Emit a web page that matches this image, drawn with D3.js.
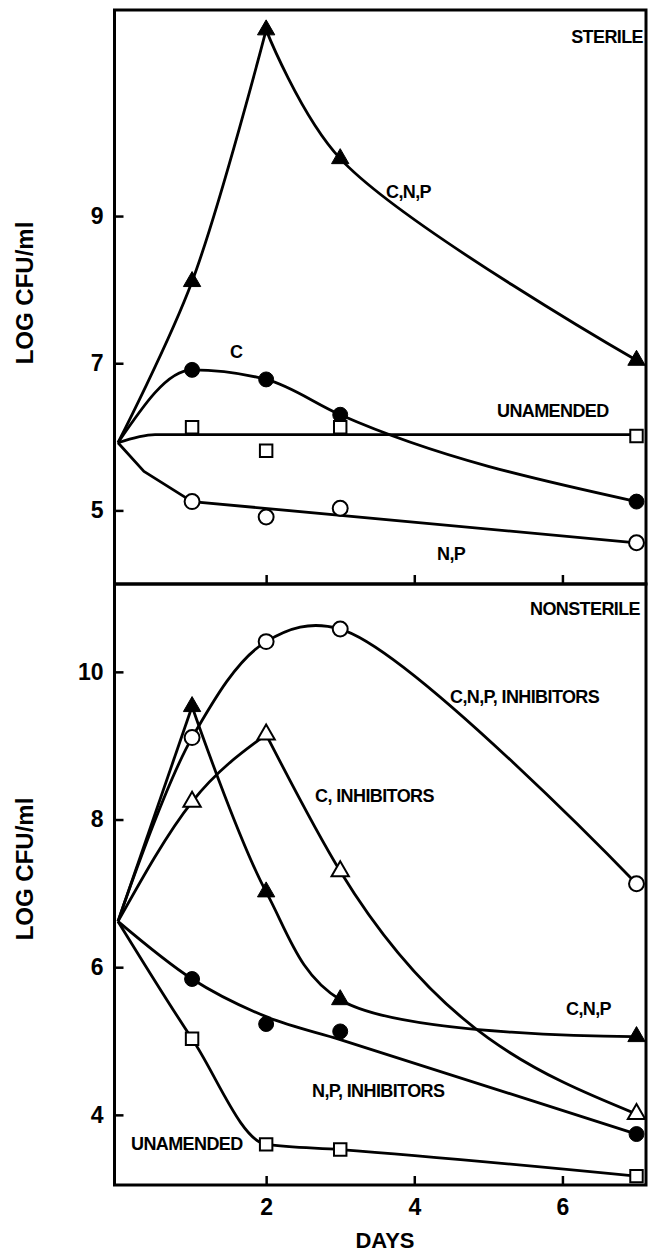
<!DOCTYPE html>
<html>
<head>
<meta charset="utf-8">
<script src="https://cdn.jsdelivr.net/npm/d3@7"></script>
<style>
  body { margin: 0; background: #fff; }
  text { font-family: "Liberation Sans", Arial, sans-serif; font-weight: bold; fill: #000; }
</style>
</head>
<body>
<svg class="chart"></svg>
<script>
// sampling days and axis ticks
var days = [0, 1, 2, 3, 7];
var xTicks = [2, 4, 6];
var sterileTicks = [5, 7, 9];
var nonsterileTicks = [4, 6, 8, 10];

// STERILE panel (log CFU/ml)
var sterCNP = [5.92, 8.11, 11.53, 9.78, 7.04];
var sterC = [5.92, 6.91, 6.78, 6.30, 5.12];
var sterUnamended = [5.92, 6.13, 5.81, 6.13, 6.01];
var sterUnamendedFitDays = [0, 0.5, 7];
var sterUnamendedFit = [5.92, 6.03, 6.03];
var sterNP = [5.92, 5.12, 4.91, 5.03, 4.56];
var sterNPFitDays = [0, 0.35, 1, 7];
var sterNPFit = [5.92, 5.53, 5.12, 4.56];

// NONSTERILE panel (log CFU/ml)
var nonCNPInh = [6.62, 9.11, 10.41, 10.58, 7.13];
var nonCNP = [6.62, 9.53, 7.02, 5.56, 5.06];
var nonCInh = [6.62, 8.24, 9.15, 7.30, 4.01];
var nonNPInh = [6.62, 5.84, 5.23, 5.13, 3.74];
var nonNPInhFit = [6.62, 5.84, 5.33, 5.02, 3.74];
var nonUnamended = [6.62, 5.03, 3.60, 3.53, 3.17];

var width = 650, height = 1253;
var left = 114.5, right = 646;

var svg = d3.select(".chart").attr("width", width).attr("height", height);

var x = d3.scaleLinear().domain([0, 7]).range([118, 636.5]);

var cr = d3.curveCatmullRom.alpha(0.5),
    mono = d3.curveMonotoneX,
    lin = d3.curveLinear;

var panels = [
  { name: "STERILE", top: 10, bottom: 584, domain: [4, 11.8], ticks: sterileTicks, labelY: 293,
    series: [
      { pts: sterCNP, shape: "triangle", filled: true, breaks: [2], curve: cr },
      { pts: sterC, shape: "circle", filled: true, breaks: [], curve: mono },
      { pts: sterUnamended, shape: "square", filled: false, fitDays: sterUnamendedFitDays, fit: sterUnamendedFit, curve: mono },
      { pts: sterNP, shape: "circle", filled: false, fitDays: sterNPFitDays, fit: sterNPFit, curve: lin }
    ],
    labels: [
      { t: "STERILE", x: 643, y: 43, a: "end" },
      { t: "C,N,P", x: 386, y: 198 },
      { t: "C", x: 230, y: 358 },
      { t: "UNAMENDED", x: 497, y: 417 },
      { t: "N,P", x: 437, y: 560 }
    ] },
  { name: "NONSTERILE", top: 584, bottom: 1185, domain: [3.05, 11.19], ticks: nonsterileTicks, labelY: 869,
    series: [
      { pts: nonCNPInh, shape: "circle", filled: false, breaks: [], curve: cr },
      { pts: nonCNP, shape: "triangle", filled: true, breaks: [1], curve: cr },
      { pts: nonCInh, shape: "triangle", filled: false, breaks: [2], curve: mono },
      { pts: nonNPInh, shape: "circle", filled: true, fitDays: days, fit: nonNPInhFit, curve: mono },
      { pts: nonUnamended, shape: "square", filled: false, breaks: [], curve: mono }
    ],
    labels: [
      { t: "NONSTERILE", x: 640, y: 615, a: "end" },
      { t: "C,N,P, INHIBITORS", x: 450, y: 703 },
      { t: "C, INHIBITORS", x: 315, y: 802 },
      { t: "C,N,P", x: 566, y: 1015 },
      { t: "N,P, INHIBITORS", x: 312, y: 1097 },
      { t: "UNAMENDED", x: 131, y: 1150 }
    ] }
];

var symbols = { circle: d3.symbolCircle, triangle: d3.symbolTriangle, square: d3.symbolSquare };
var sizes = { circle: 175, triangle: 130, square: 155 };

panels.forEach(function(p, pi) {
  var y = d3.scaleLinear().domain(p.domain).range([p.bottom, p.top]);
  var g = svg.append("g");

  var line = d3.line()
    .x(function(d) { return x(d[0]); })
    .y(function(d) { return y(d[1]); });

  // curves first
  p.series.forEach(function(s) {
    if (s.fit) {
      var fd = s.fitDays.map(function(d, i) { return [d, s.fit[i]]; });
      g.append("path").datum(fd)
        .attr("d", line.curve(s.curve))
        .attr("fill", "none").attr("stroke", "#000").attr("stroke-width", 2.8)
        .attr("stroke-linejoin", "round");
    } else {
      var pts = days.map(function(d, i) { return [d, s.pts[i]]; });
      var cuts = [0].concat(s.breaks, [pts.length - 1]);
      for (var k = 0; k < cuts.length - 1; k++) {
        g.append("path").datum(pts.slice(cuts[k], cuts[k + 1] + 1))
          .attr("d", line.curve(s.curve))
          .attr("fill", "none").attr("stroke", "#000").attr("stroke-width", 2.8)
          .attr("stroke-linejoin", "round");
      }
    }
  });

  // markers (no marker at day 0)
  p.series.forEach(function(s) {
    g.selectAll(null)
      .data(days.slice(1).map(function(d, i) { return [d, s.pts[i + 1]]; }))
      .enter().append("path")
      .attr("transform", function(d) { return "translate(" + x(d[0]) + "," + y(d[1]) + ")"; })
      .attr("d", d3.symbol().type(symbols[s.shape]).size(sizes[s.shape]))
      .attr("fill", s.filled ? "#000" : "#fff")
      .attr("stroke", "#000")
      .attr("stroke-width", s.filled ? 1 : 2);
  });

  // frame
  g.append("rect")
    .attr("x", left).attr("y", p.top)
    .attr("width", right - left).attr("height", p.bottom - p.top)
    .attr("fill", "none").attr("stroke", "#000").attr("stroke-width", 3);

  // y axis, inward ticks
  var yAxis = d3.axisLeft(y).tickValues(p.ticks).tickSize(-9).tickPadding(11);
  var ya = g.append("g").attr("transform", "translate(" + left + ",0)").call(yAxis);
  ya.select(".domain").remove();
  ya.selectAll("line").attr("stroke-width", 2.5);
  ya.selectAll("text").attr("font-size", 23).attr("font-family", null);

  // x axis, inward ticks
  var xAxis = d3.axisBottom(x).tickValues(xTicks).tickSize(-9).tickPadding(14)
    .tickFormat(pi === 0 ? "" : d3.format("d"));
  var xa = g.append("g").attr("transform", "translate(0," + p.bottom + ")").call(xAxis);
  xa.select(".domain").remove();
  xa.selectAll("line").attr("stroke-width", 2.5);
  xa.selectAll("text").attr("font-size", 23).attr("font-family", null);

  // y title
  g.append("text")
    .attr("transform", "translate(33," + p.labelY + ") rotate(-90)")
    .attr("text-anchor", "middle")
    .attr("font-size", 24)
    .text("LOG CFU/ml");

  // curve labels
  g.selectAll(".lbl").data(p.labels).enter().append("text")
    .attr("x", function(d) { return d.x; })
    .attr("y", function(d) { return d.y; })
    .attr("text-anchor", function(d) { return d.a || "start"; })
    .attr("font-size", 18)
    .attr("letter-spacing", -0.6)
    .text(function(d) { return d.t; });
});

svg.append("text")
  .attr("x", 385).attr("y", 1248)
  .attr("text-anchor", "middle")
  .attr("font-size", 22)
  .text("DAYS");
</script>
</body>
</html>
